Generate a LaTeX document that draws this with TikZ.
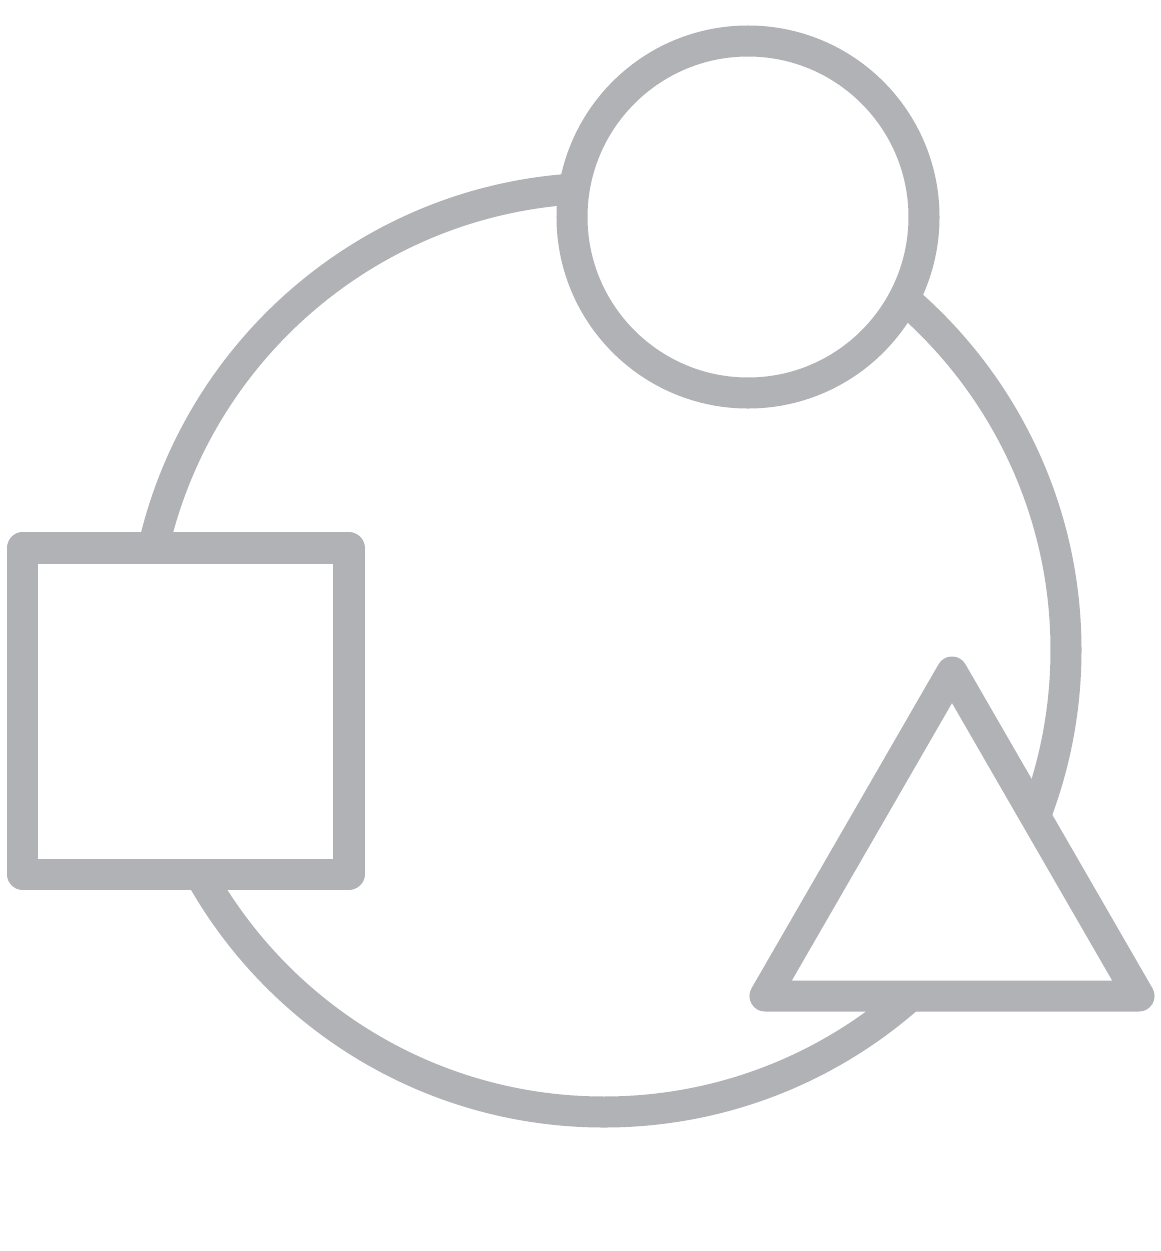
\documentclass[tikz,border=0pt]{standalone}
\definecolor{shapegray}{RGB}{177,178,182}
\tikzset{ring/.style={draw=shapegray, line width=0.31cm},
  outline/.style={draw=shapegray, line width=0.31cm, line join=round, fill=white}}
\begin{document}
\begin{tikzpicture}[x=0.01cm,y=-0.01cm]
\useasboundingbox (0,0) rectangle (1161,1251);
% big ring
\coordinate (ringc) at (604,650);
\draw[ring] (ringc) circle[radius=462];
% circle on top
\coordinate (topc) at (748,217);
\draw[outline] (topc) circle[radius=176];
% square on the left
\coordinate (sqa) at (22.5,548);
\coordinate (sqb) at (349,874);
\draw[outline] (sqa) rectangle (sqb);
% triangle bottom right
\coordinate (tra) at (952,672);
\coordinate (trb) at (1139,996);
\coordinate (trc) at (765,996);
\draw[outline] (tra) -- (trb) -- (trc) -- cycle;
\end{tikzpicture}
\end{document}
